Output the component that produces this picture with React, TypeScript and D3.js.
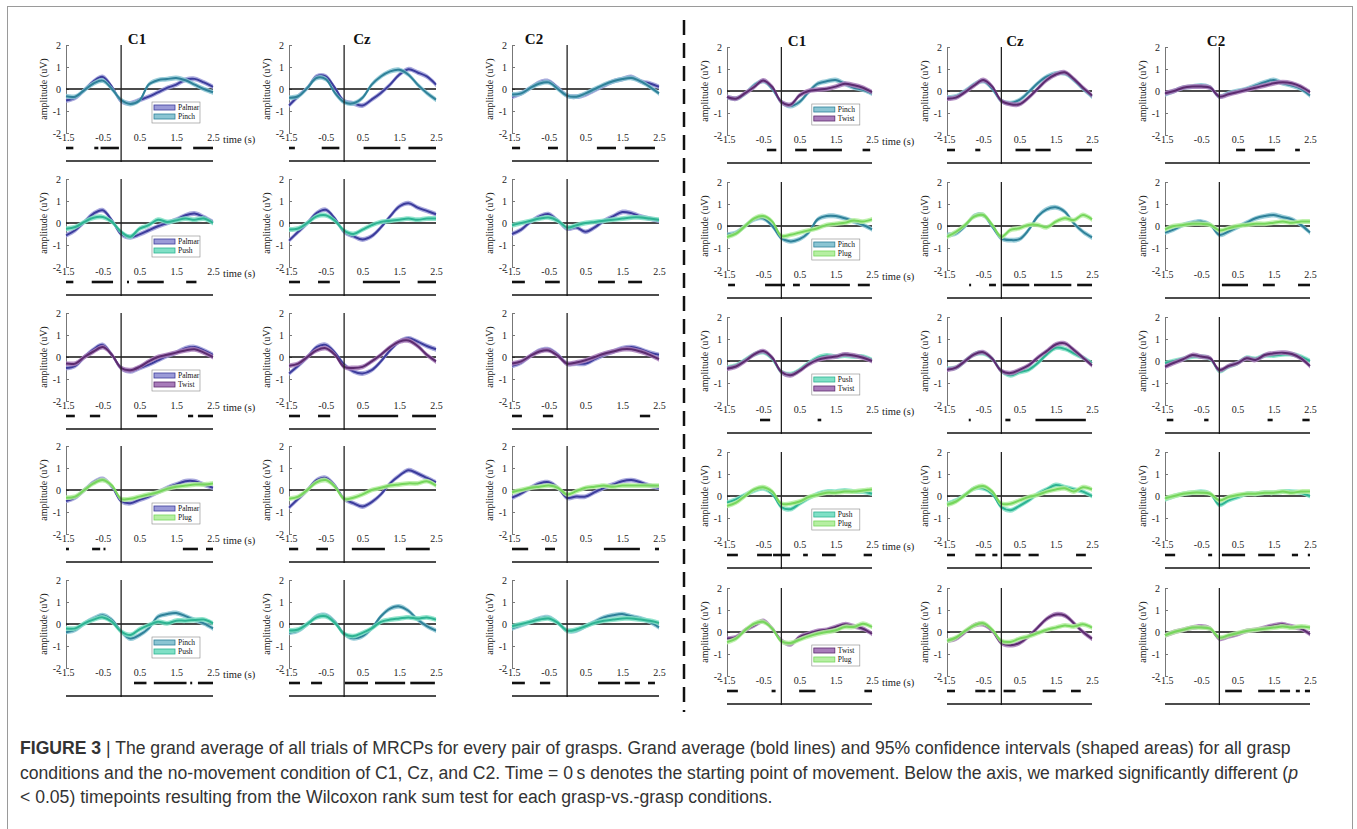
import React, { useEffect, useRef } from 'react';
import * as d3 from 'd3';

// sample times (s) and axis ticks
const times = [-1.5, -1.25, -1, -0.75, -0.5, -0.25, 0, 0.25, 0.5, 0.75, 1, 1.25, 1.5, 1.75, 2, 2.25, 2.5];
const xTicks = [-1.5, -0.5, 0.5, 1.5, 2.5];
const yTicks = [2, 1, 0, -1, -2];
const channels = ['C1', 'Cz', 'C2'];
const leftPairs = [['Palmar', 'Pinch'], ['Palmar', 'Push'], ['Palmar', 'Twist'], ['Palmar', 'Plug'], ['Pinch', 'Push']];
const rightPairs = [['Pinch', 'Twist'], ['Pinch', 'Plug'], ['Push', 'Twist'], ['Push', 'Plug'], ['Twist', 'Plug']];
const ciHalf = 0.11;

const lineColor: any = { Palmar: '#3c3c9c', Pinch: '#2f8199', Push: '#2db392', Twist: '#5c2b6f', Plug: '#76d65c' };
const bandColor: any = { Palmar: '#9b9bd8', Pinch: '#8bc5d3', Push: '#80e0c6', Twist: '#a87cba', Plug: '#b6efa2' };

// left half, grand averages (uV) for each pair [first, second]
const L1C1 = [[-0.52, -0.4, -0.05, 0.35, 0.55, 0.1, -0.55, -0.65, -0.5, -0.35, -0.15, 0.05, 0.2, 0.42, 0.46, 0.3, 0.1],
  [-0.33, -0.35, -0.05, 0.25, 0.38, 0.0, -0.5, -0.68, -0.52, 0.2, 0.4, 0.45, 0.5, 0.4, 0.2, 0.0, -0.15]];
const L1Cz = [[-0.75, -0.33, 0.05, 0.57, 0.57, 0.05, -0.55, -0.65, -0.75, -0.48, -0.18, 0.2, 0.65, 0.9, 0.75, 0.57, 0.2],
  [-0.4, -0.33, 0.05, 0.5, 0.45, -0.18, -0.6, -0.65, -0.4, 0.2, 0.57, 0.8, 0.87, 0.65, 0.2, -0.18, -0.48]];
const L1C2 = [[-0.35, -0.2, 0.05, 0.3, 0.35, 0.05, -0.3, -0.35, -0.25, -0.05, 0.15, 0.35, 0.45, 0.55, 0.35, 0.25, 0.1],
  [-0.25, -0.2, 0.05, 0.25, 0.3, 0.0, -0.3, -0.35, -0.2, 0.0, 0.2, 0.35, 0.45, 0.5, 0.35, 0.1, -0.2]];
const L2C1 = [[-0.56, -0.33, 0.05, 0.43, 0.58, 0.12, -0.5, -0.65, -0.52, -0.33, -0.15, 0.0, 0.15, 0.35, 0.43, 0.27, 0.05],
  [-0.26, -0.18, 0.05, 0.24, 0.27, 0.05, -0.4, -0.62, -0.26, -0.1, 0.15, 0.05, 0.12, 0.2, 0.15, 0.2, 0.0]];
const L2Cz = [[-0.8, -0.4, 0.0, 0.45, 0.6, 0.2, -0.4, -0.6, -0.75, -0.6, -0.2, 0.3, 0.75, 0.9, 0.7, 0.55, 0.4],
  [-0.3, -0.25, 0.0, 0.3, 0.35, 0.1, -0.35, -0.5, -0.3, -0.1, 0.05, 0.1, 0.15, 0.2, 0.15, 0.2, 0.2]];
const L2C2 = [[-0.5, -0.3, 0.05, 0.3, 0.4, 0.1, -0.25, -0.2, -0.4, -0.2, 0.1, 0.3, 0.5, 0.45, 0.3, 0.2, 0.1],
  [-0.1, 0.0, 0.1, 0.2, 0.25, 0.1, -0.2, -0.1, 0.0, 0.05, 0.1, 0.15, 0.2, 0.25, 0.25, 0.2, 0.15]];
const L3C1 = [[-0.5, -0.4, 0.0, 0.35, 0.55, 0.1, -0.5, -0.65, -0.5, -0.35, -0.15, 0.05, 0.2, 0.4, 0.45, 0.3, 0.1],
  [-0.3, -0.3, 0.0, 0.25, 0.45, 0.1, -0.5, -0.6, -0.45, -0.2, 0.0, 0.1, 0.2, 0.3, 0.35, 0.2, 0.0]];
const L3Cz = [[-0.75, -0.4, 0.0, 0.45, 0.55, 0.2, -0.35, -0.65, -0.75, -0.6, -0.2, 0.3, 0.7, 0.85, 0.7, 0.5, 0.35],
  [-0.4, -0.3, 0.0, 0.3, 0.4, 0.1, -0.45, -0.5, -0.45, -0.2, 0.1, 0.45, 0.7, 0.75, 0.5, 0.1, -0.2]];
const L3C2 = [[-0.4, -0.25, 0.05, 0.3, 0.35, 0.1, -0.3, -0.3, -0.3, -0.1, 0.1, 0.25, 0.4, 0.45, 0.35, 0.2, 0.1],
  [-0.3, -0.2, 0.05, 0.25, 0.3, 0.05, -0.3, -0.25, -0.15, 0.0, 0.15, 0.25, 0.35, 0.35, 0.25, 0.1, -0.1]];
const L4C1 = [[-0.5, -0.35, 0.0, 0.35, 0.5, 0.15, -0.5, -0.6, -0.45, -0.3, -0.1, 0.1, 0.25, 0.4, 0.4, 0.25, 0.1],
  [-0.35, -0.3, 0.0, 0.3, 0.45, 0.2, -0.4, -0.4, -0.3, -0.2, -0.1, 0.05, 0.15, 0.2, 0.25, 0.25, 0.3]];
const L4Cz = [[-0.8, -0.4, 0.0, 0.45, 0.55, 0.2, -0.4, -0.6, -0.75, -0.55, -0.2, 0.3, 0.65, 0.9, 0.75, 0.55, 0.35],
  [-0.4, -0.3, 0.0, 0.35, 0.45, 0.15, -0.4, -0.35, -0.2, 0.0, 0.1, 0.2, 0.25, 0.3, 0.3, 0.4, 0.2]];
const L4C2 = [[-0.35, -0.15, 0.1, 0.3, 0.35, 0.1, -0.35, -0.3, -0.3, -0.1, 0.1, 0.25, 0.4, 0.45, 0.35, 0.2, 0.1],
  [-0.1, 0.0, 0.1, 0.15, 0.2, 0.1, -0.2, -0.05, 0.1, 0.15, 0.2, 0.15, 0.2, 0.2, 0.2, 0.2, 0.2]];
const L5C1 = [[-0.37, -0.27, 0.03, 0.25, 0.4, 0.18, -0.34, -0.66, -0.5, -0.2, 0.33, 0.45, 0.5, 0.36, 0.18, 0.03, -0.2],
  [-0.2, -0.2, 0.03, 0.2, 0.3, 0.1, -0.34, -0.5, -0.24, -0.05, 0.1, 0.03, 0.15, 0.15, 0.18, 0.2, 0.03]];
const L5Cz = [[-0.4, -0.3, 0.0, 0.35, 0.4, 0.1, -0.45, -0.65, -0.55, -0.2, 0.35, 0.7, 0.8, 0.6, 0.2, -0.1, -0.3],
  [-0.3, -0.25, 0.0, 0.3, 0.35, 0.05, -0.45, -0.55, -0.4, -0.2, 0.1, 0.2, 0.25, 0.3, 0.25, 0.3, 0.2]];
const L5C2 = [[-0.2, -0.05, 0.1, 0.25, 0.3, 0.05, -0.3, -0.3, -0.1, 0.1, 0.3, 0.4, 0.45, 0.35, 0.25, 0.1, -0.15],
  [-0.1, 0.0, 0.1, 0.2, 0.25, 0.05, -0.3, -0.25, -0.1, 0.05, 0.15, 0.2, 0.25, 0.25, 0.2, 0.15, 0.05]];

// right half
const R1C1 = [[-0.27, -0.35, -0.12, 0.26, 0.45, 0.1, -0.5, -0.68, -0.5, -0.05, 0.33, 0.44, 0.5, 0.33, 0.15, 0.06, -0.12],
  [-0.27, -0.35, -0.1, 0.18, 0.48, 0.18, -0.5, -0.62, -0.2, 0.0, 0.06, 0.1, 0.2, 0.33, 0.26, 0.15, -0.05]];
const R1Cz = [[-0.3, -0.25, 0.0, 0.3, 0.45, 0.1, -0.45, -0.55, -0.4, -0.05, 0.35, 0.65, 0.8, 0.8, 0.5, 0.1, -0.25],
  [-0.35, -0.3, -0.05, 0.25, 0.5, 0.2, -0.45, -0.6, -0.6, -0.3, 0.1, 0.5, 0.75, 0.85, 0.55, 0.15, -0.2]];
const R1C2 = [[-0.15, 0.0, 0.15, 0.2, 0.25, 0.15, -0.25, -0.1, 0.0, 0.1, 0.25, 0.4, 0.5, 0.35, 0.25, 0.1, -0.2],
  [-0.1, 0.0, 0.15, 0.2, 0.2, 0.15, -0.25, -0.15, -0.05, 0.05, 0.15, 0.25, 0.35, 0.4, 0.35, 0.2, -0.05]];
const R2C1 = [[-0.4, -0.3, 0.0, 0.3, 0.35, 0.0, -0.55, -0.7, -0.6, -0.3, 0.3, 0.45, 0.45, 0.35, 0.2, 0.05, -0.15],
  [-0.5, -0.35, 0.0, 0.35, 0.45, 0.2, -0.45, -0.4, -0.3, -0.2, -0.1, 0.05, 0.1, 0.15, 0.25, 0.2, 0.3]];
const R2Cz = [[-0.41, -0.33, 0.0, 0.46, 0.5, -0.03, -0.56, -0.64, -0.6, -0.18, 0.43, 0.76, 0.85, 0.65, 0.12, -0.26, -0.52],
  [-0.49, -0.26, 0.05, 0.43, 0.5, 0.05, -0.49, -0.18, -0.1, 0.05, 0.05, -0.06, 0.2, 0.35, 0.27, 0.5, 0.3]];
const R2C2 = [[-0.3, -0.15, 0.05, 0.15, 0.2, 0.05, -0.4, -0.25, -0.05, 0.15, 0.35, 0.45, 0.5, 0.4, 0.3, 0.05, -0.3],
  [-0.15, 0.0, 0.05, 0.1, 0.1, 0.05, -0.2, -0.1, 0.0, 0.05, 0.1, 0.1, 0.15, 0.2, 0.15, 0.2, 0.2]];
const R3C1 = [[-0.3, -0.2, 0.05, 0.3, 0.4, 0.1, -0.5, -0.6, -0.4, -0.1, 0.15, 0.25, 0.2, 0.25, 0.2, 0.2, 0.05],
  [-0.35, -0.25, 0.0, 0.3, 0.45, 0.15, -0.5, -0.65, -0.45, -0.15, 0.05, 0.15, 0.2, 0.3, 0.25, 0.15, 0.0]];
const R3Cz = [[-0.35, -0.3, 0.0, 0.3, 0.35, 0.1, -0.45, -0.65, -0.5, -0.4, -0.1, 0.3, 0.6, 0.55, 0.35, 0.15, -0.1],
  [-0.4, -0.3, 0.0, 0.3, 0.4, 0.1, -0.45, -0.55, -0.4, -0.2, 0.15, 0.45, 0.75, 0.8, 0.5, 0.15, -0.2]];
const R3C2 = [[-0.1, 0.0, 0.1, 0.2, 0.2, 0.1, -0.45, -0.25, -0.1, 0.15, 0.1, 0.25, 0.25, 0.3, 0.3, 0.2, 0.0],
  [-0.26, -0.08, 0.08, 0.27, 0.2, 0.12, -0.41, -0.23, -0.1, 0.12, 0.05, 0.27, 0.35, 0.38, 0.32, 0.12, -0.23]];
const R4C1 = [[-0.3, -0.15, 0.05, 0.25, 0.35, 0.1, -0.5, -0.6, -0.35, -0.1, 0.1, 0.2, 0.2, 0.25, 0.2, 0.2, 0.1],
  [-0.45, -0.3, 0.0, 0.3, 0.4, 0.2, -0.35, -0.35, -0.25, -0.05, 0.05, 0.15, 0.15, 0.2, 0.2, 0.25, 0.3]];
const R4Cz = [[-0.35, -0.2, 0.05, 0.35, 0.35, 0.1, -0.5, -0.65, -0.45, -0.2, 0.1, 0.3, 0.5, 0.4, 0.3, 0.2, 0.0],
  [-0.4, -0.25, 0.05, 0.35, 0.45, 0.2, -0.35, -0.35, -0.2, -0.05, 0.05, 0.2, 0.3, 0.35, 0.2, 0.4, 0.3]];
const R4C2 = [[-0.15, 0.0, 0.1, 0.15, 0.2, 0.1, -0.4, -0.2, -0.05, 0.1, 0.1, 0.15, 0.15, 0.2, 0.2, 0.15, 0.0],
  [-0.1, 0.0, 0.1, 0.15, 0.15, 0.1, -0.2, -0.05, 0.05, 0.1, 0.1, 0.15, 0.15, 0.2, 0.15, 0.2, 0.2]];
const R5C1 = [[-0.3, -0.23, 0.08, 0.3, 0.5, 0.15, -0.38, -0.56, -0.23, -0.08, 0.05, 0.1, 0.23, 0.35, 0.26, 0.15, -0.08],
  [-0.46, -0.3, 0.08, 0.38, 0.46, 0.15, -0.42, -0.5, -0.35, -0.2, -0.08, 0.0, 0.08, 0.23, 0.23, 0.38, 0.23]];
const R5Cz = [[-0.4, -0.3, 0.0, 0.3, 0.35, 0.05, -0.5, -0.6, -0.5, -0.2, 0.2, 0.6, 0.8, 0.75, 0.4, 0.0, -0.3],
  [-0.4, -0.25, 0.05, 0.3, 0.4, 0.1, -0.4, -0.45, -0.3, -0.2, -0.05, 0.1, 0.2, 0.3, 0.25, 0.35, 0.2]];
const R5C2 = [[-0.15, 0.0, 0.1, 0.2, 0.25, 0.15, -0.3, -0.2, -0.1, 0.05, 0.1, 0.2, 0.3, 0.35, 0.25, 0.15, -0.1],
  [-0.15, 0.0, 0.1, 0.2, 0.2, 0.15, -0.25, -0.15, -0.05, 0.05, 0.1, 0.15, 0.2, 0.25, 0.2, 0.25, 0.2]];

// significant intervals (s), Wilcoxon p < 0.05
const sL1C1 = [[-1.5, -1.3], [-0.73, -0.62], [-0.56, -0.06], [0.73, 1.64], [1.96, 2.5]];
const sL1Cz = [[-1.5, -1.34], [-0.61, -0.13], [0.53, 1.53], [1.75, 2.5]];
const sL1C2 = [[-1.5, -1.28], [-0.52, -0.25], [0.81, 1.33], [1.57, 2.39]];
const sL2C1 = [[-1.5, -1.3], [-0.8, -0.22], [0.16, 0.19], [0.44, 1.16], [1.77, 2.05]];
const sL2Cz = [[-1.5, -1.2], [-0.71, -0.39], [0.51, 1.52], [2.0, 2.5]];
const sL2C2 = [[-1.5, -1.15], [-0.6, -0.2], [0.84, 1.3], [1.66, 2.04]];
const sL3C1 = [[-1.5, -1.26], [-0.85, -0.57], [0.43, 0.98], [1.82, 1.96], [2.09, 2.5]];
const sL3Cz = [[-1.5, -1.2], [-0.71, -0.38], [0.38, 1.47], [1.85, 2.5]];
const sL3C2 = [[-1.5, -1.23], [-0.66, -0.38], [1.98, 2.26]];
const sL4C1 = [[-1.5, -1.42], [-0.79, -0.57], [-0.48, -0.44], [1.68, 2.09], [2.31, 2.5]];
const sL4Cz = [[-1.5, -1.25], [-0.76, -0.44], [0.21, 1.11], [1.68, 2.33]];
const sL4C2 = [[-1.5, -1.06], [-0.6, -0.33], [1.0, 1.98], [2.39, 2.5]];
const sL5C1 = [[0.35, 0.69], [0.89, 1.78], [1.88, 1.92], [2.09, 2.5]];
const sL5Cz = [[-1.5, -1.2], [-0.9, -0.6], [0.02, 0.65], [0.84, 1.66], [1.8, 2.47]];
const sL5C2 = [[-1.5, -1.15], [-0.74, -0.46], [0.84, 1.44], [1.57, 1.98], [2.2, 2.39]];
const sR1C1 = [[-0.4, -0.14], [0.38, 0.7], [0.87, 1.67], [2.24, 2.45]];
const sR1Cz = [[-1.5, -1.28], [-0.72, -0.58], [0.39, 0.8], [0.94, 1.36], [2.05, 2.5]];
const sR1C2 = [[0.46, 0.71], [0.98, 1.53], [2.09, 2.22]];
const sR2C1 = [[-1.47, -1.28], [-0.45, 0.1], [0.32, 0.51], [0.79, 1.89], [2.11, 2.44]];
const sR2Cz = [[-0.89, -0.85], [-0.34, -0.15], [0.03, 0.77], [0.9, 1.93], [2.09, 2.5]];
const sR2C2 = [[0.07, 0.79], [1.2, 1.53], [2.17, 2.5]];
const sR3C1 = [[-0.59, -0.31], [1.0, 1.1]];
const sR3Cz = [[-0.9, -0.86], [0.11, 0.25], [0.94, 2.33]];
const sR3C2 = [[-1.45, -1.27], [-0.42, -0.3], [1.33, 1.47], [2.29, 2.49]];
const sR4C1 = [[-1.5, -1.2], [-0.67, -0.26], [-0.23, 0.24], [0.6, 0.73], [1.12, 1.5], [2.27, 2.5]];
const sR4Cz = [[-1.5, -1.28], [-0.72, -0.44], [-0.25, -0.11], [0.06, 0.53], [0.75, 1.03], [2.06, 2.33]];
const sR4C2 = [[-1.5, -1.22], [-0.31, -0.2], [0.07, 0.71], [1.07, 1.53], [2.0, 2.17], [2.44, 2.5]];
const sR5C1 = [[-1.5, -1.2], [-0.27, -0.16], [0.49, 0.94], [2.29, 2.5]];
const sR5Cz = [[-1.5, -1.28], [-0.72, -0.44], [-0.36, -0.17], [0.06, 0.39], [1.14, 1.5], [1.92, 2.19]];
const sR5C2 = [[0.16, 0.62], [1.07, 1.53], [1.67, 1.95], [2.11, 2.22], [2.36, 2.5]];

const captionLines = [
  'The grand average of all trials of MRCPs for every pair of grasps. Grand average (bold lines) and 95% confidence intervals (shaped areas) for all grasp',
  'conditions and the no-movement condition of C1, Cz, and C2. Time = 0\u2009s denotes the starting point of movement. Below the axis, we marked significantly different (',
  '< 0.05) timepoints resulting from the Wilcoxon rank sum test for each grasp-vs.-grasp conditions.',
];

const leftData = [[L1C1, L1Cz, L1C2], [L2C1, L2Cz, L2C2], [L3C1, L3Cz, L3C2], [L4C1, L4Cz, L4C2], [L5C1, L5Cz, L5C2]];
const rightData = [[R1C1, R1Cz, R1C2], [R2C1, R2Cz, R2C2], [R3C1, R3Cz, R3C2], [R4C1, R4Cz, R4C2], [R5C1, R5Cz, R5C2]];
const leftSig = [[sL1C1, sL1Cz, sL1C2], [sL2C1, sL2Cz, sL2C2], [sL3C1, sL3Cz, sL3C2], [sL4C1, sL4Cz, sL4C2], [sL5C1, sL5Cz, sL5C2]];
const rightSig = [[sR1C1, sR1Cz, sR1C2], [sR2C1, sR2Cz, sR2C2], [sR3C1, sR3Cz, sR3C2], [sR4C1, sR4Cz, sR4C2], [sR5C1, sR5Cz, sR5C2]];

const W = 1357, H = 829;
const serif = '"Liberation Serif", "DejaVu Serif", serif';
const sans = '"Liberation Sans", Arial, sans-serif';
const plotH = 88;

const halves = [
  { cols: [66, 289, 512], tops: [45, 179, 313, 446, 580], w: 147, titleX: [137, 362, 534], titleY: 44, pairs: leftPairs, data: leftData, sig: leftSig },
  { cols: [727, 947, 1165], tops: [47, 182, 317, 452, 588], w: 145, titleX: [797, 1015, 1216], titleY: 46, pairs: rightPairs, data: rightData, sig: rightSig },
];

export default function App() {
  const ref = useRef<SVGSVGElement>(null);

  useEffect(() => {
    const svg = d3.select(ref.current);
    svg.selectAll('*').remove();

    svg.append('rect').attr('width', W).attr('height', H).attr('fill', '#fff');
    // frame
    svg.append('rect').attr('x', 7.5).attr('y', 6.5).attr('width', 1345).attr('height', 840)
      .attr('fill', 'none').attr('stroke', '#9a9a9a').attr('stroke-width', 1);

    // dashed separator between the two halves
    svg.append('line').attr('x1', 684).attr('x2', 684).attr('y1', 20).attr('y2', 712)
      .attr('stroke', '#111').attr('stroke-width', 2.5).attr('stroke-dasharray', '15 8');

    const x = d3.scaleLinear().domain([-1.5, 2.5]);
    const y = d3.scaleLinear().domain([-2, 2]).range([plotH, 0]);

    halves.forEach((half) => {
      x.range([0, half.w]);
      channels.forEach((ch, ci) => {
        svg.append('text').attr('x', half.titleX[ci]).attr('y', half.titleY)
          .attr('text-anchor', 'middle').attr('font-family', serif).attr('font-weight', 'bold')
          .attr('font-size', 15).attr('fill', '#111').text(ch);

        half.tops.forEach((top, ri) => {
          const g = svg.append('g').attr('transform', `translate(${half.cols[ci]},${top})`);
          const pair = half.pairs[ri];
          const series = half.data[ri][ci];

          // y axis, ticks pointing inward
          const ya = g.append('g').call(
            d3.axisLeft(y).tickValues(yTicks).tickSizeInner(-3).tickSizeOuter(0).tickPadding(5)
              .tickFormat((d: any) => String(d)) as any
          );
          ya.select('.domain').attr('stroke', '#777');
          ya.selectAll('line').attr('stroke', '#777');
          ya.selectAll('text').attr('font-family', serif).attr('font-size', 10).attr('fill', '#222');

          const xa = g.append('g').attr('transform', `translate(0,${plotH})`).call(
            d3.axisBottom(x).tickValues(xTicks).tickSize(0).tickPadding(1)
              .tickFormat((d: any) => String(d)) as any
          );
          xa.select('.domain').remove();
          xa.selectAll('text').attr('font-family', serif).attr('font-size', 10).attr('fill', '#222');

          if (ci === 0) {
            g.append('text').attr('x', half.w + 10).attr('y', plotH + 10)
              .attr('font-family', serif).attr('font-size', 10.5).attr('fill', '#222').text('time (s)');
          }

          g.append('text').attr('transform', `translate(-19,${plotH / 2}) rotate(-90)`)
            .attr('text-anchor', 'middle').attr('font-family', serif).attr('font-size', 10)
            .attr('fill', '#222').text('amplitude (uV)');

          // zero lines
          g.append('line').attr('x1', 0).attr('x2', half.w).attr('y1', y(0)).attr('y2', y(0))
            .attr('stroke', '#111').attr('stroke-width', 1.3);

          const area = d3.area<number>().x((_, i) => x(times[i]))
            .y0((d) => y(d - ciHalf)).y1((d) => y(d + ciHalf)).curve(d3.curveCatmullRom);
          const line = d3.line<number>().x((_, i) => x(times[i])).y((d) => y(d)).curve(d3.curveCatmullRom);

          series.forEach((vals, si) => {
            g.append('path').attr('d', area(vals)).attr('fill', bandColor[pair[si]]).attr('opacity', 0.85);
            g.append('path').attr('d', line(vals)).attr('fill', 'none')
              .attr('stroke', lineColor[pair[si]]).attr('stroke-width', 2);
          });

          g.append('line').attr('x1', x(0)).attr('x2', x(0)).attr('y1', 0).attr('y2', plotH + 29)
            .attr('stroke', '#222').attr('stroke-width', 1.3);

          // significance bars and baseline
          half.sig[ri][ci].forEach(([a, b]) => {
            g.append('line').attr('x1', x(a)).attr('x2', Math.max(x(b), x(a) + 2))
              .attr('y1', plotH + 15).attr('y2', plotH + 15)
              .attr('stroke', '#111').attr('stroke-width', 2.6);
          });
          g.append('line').attr('x1', 0).attr('x2', half.w).attr('y1', plotH + 28).attr('y2', plotH + 28)
            .attr('stroke', '#111').attr('stroke-width', 1.3);

          if (ci === 0) {
            const lx = half.w * 0.585, ly = 57;
            const lg = g.append('g').attr('transform', `translate(${lx},${ly})`);
            lg.append('rect').attr('width', 48).attr('height', 21).attr('fill', '#fff')
              .attr('stroke', '#888').attr('stroke-width', 0.6);
            pair.forEach((name, k) => {
              lg.append('rect').attr('x', 2).attr('y', 3 + k * 9).attr('width', 21).attr('height', 5)
                .attr('fill', bandColor[name]).attr('stroke', lineColor[name]).attr('stroke-width', 0.8);
              lg.append('text').attr('x', 26).attr('y', 8 + k * 9).attr('font-family', serif)
                .attr('font-size', 7.5).attr('fill', '#111').text(name);
            });
          }
        });
      });
    });

    // caption
    const cap = svg.append('g').attr('font-family', sans).attr('font-size', 17.6).attr('fill', '#333');
    const t1 = cap.append('text').attr('x', 20).attr('y', 754);
    t1.append('tspan').attr('font-weight', 'bold').text('FIGURE 3');
    t1.append('tspan').text(' | ' + captionLines[0]);
    const t2 = cap.append('text').attr('x', 20).attr('y', 779);
    t2.append('tspan').text(captionLines[1]);
    t2.append('tspan').attr('font-style', 'italic').text('p');
    cap.append('text').attr('x', 20).attr('y', 803).text(captionLines[2]);
  }, []);

  return (
    <svg ref={ref} width={W} height={H} style={{ position: 'absolute', left: 0, top: 0 }} />
  );
}
